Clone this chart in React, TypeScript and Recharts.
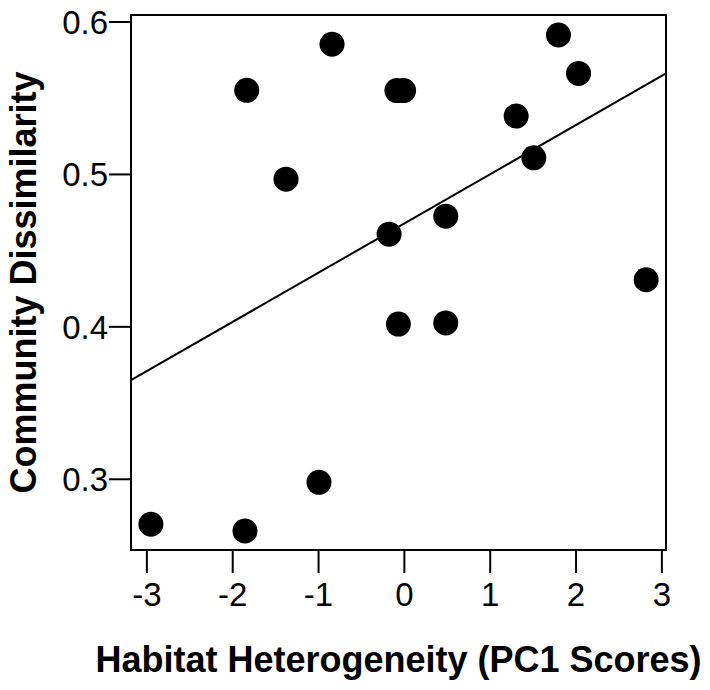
import React from 'react';
import { ScatterChart, Scatter, XAxis, YAxis, ReferenceArea, ReferenceLine, Label } from 'recharts';

const heterogeneity = [-2.953, -1.857, -0.995, -1.837, -1.379, -0.843, -0.087, -0.009, -0.178, -0.07, 0.482, 0.482, 1.302, 1.508, 1.795, 2.029, 2.817];
const dissimilarity = [0.2705, 0.2661, 0.298, 0.5552, 0.4969, 0.5854, 0.555, 0.555, 0.4608, 0.4018, 0.4726, 0.4026, 0.5383, 0.5109, 0.5915, 0.5663, 0.4309];

const fitX = [-3.185, 3.048];
const fitY = [0.365, 0.5663];

const xDomain = [-3.185, 3.048];
const yDomain = [0.2536, 0.6046];
const xTicks = [-3, -2, -1, 0, 1, 2, 3];
const yTicks = [0.3, 0.4, 0.5, 0.6];

const xTitle = 'Habitat Heterogeneity (PC1 Scores)';
const yTitle = 'Community Dissimilarity';

const FONT = '"Liberation Sans", Arial, Helvetica, sans-serif';

const points = heterogeneity.map((x, i) => ({ x, y: dissimilarity[i] }));

const Dot = (p: any) => <circle cx={p.cx} cy={p.cy} r={12.5} fill="#000" />;

export default function App() {
  return (
    <div style={{ width: 702, height: 682 }}>
      <ScatterChart width={702} height={682} margin={{ top: 7, right: 44, bottom: 0, left: 0 }}>
        <XAxis
          type="number"
          dataKey="x"
          domain={xDomain}
          ticks={xTicks}
          allowDataOverflow
          height={140}
          axisLine={false}
          tickLine={{ stroke: '#000', strokeWidth: 2 }}
          tickSize={23}
          tickMargin={10}
          tick={{ fill: '#000', fontSize: 33, fontFamily: FONT }}
          interval={0}
        >
          <Label
            content={(props: any) => {
              const vb = props.viewBox || {};
              return (
                <text
                  x={vb.x + vb.width / 2}
                  y={vb.y + 121.7}
                  textAnchor="middle"
                  fontFamily={FONT}
                  fontWeight="bold"
                  fontSize={36}
                  fill="#000"
                >
                  {xTitle}
                </text>
              );
            }}
          />
        </XAxis>
        <YAxis
          type="number"
          dataKey="y"
          domain={yDomain}
          ticks={yTicks}
          allowDataOverflow
          width={123}
          axisLine={false}
          tickLine={{ stroke: '#000', strokeWidth: 2 }}
          tickSize={22}
          tickMargin={1}
          tick={{ fill: '#000', fontSize: 33, fontFamily: FONT }}
          tickFormatter={(v: number) => v.toFixed(1)}
          interval={0}
        >
          <Label
            content={(props: any) => {
              const vb = props.viewBox || {};
              const cx = vb.x + 28;
              const cy = vb.y + vb.height / 2;
              return (
                <text
                  x={cx}
                  y={cy}
                  transform={`rotate(-90, ${cx}, ${cy})`}
                  textAnchor="middle"
                  fontFamily={FONT}
                  fontWeight="bold"
                  fontSize={36}
                  fill="#000"
                >
                  {yTitle}
                </text>
              );
            }}
          />
        </YAxis>
        <ReferenceArea
          x1={xDomain[0]}
          x2={xDomain[1]}
          y1={yDomain[0]}
          y2={yDomain[1]}
          fill="none"
          fillOpacity={0}
          stroke="#000"
          strokeWidth={2}
          strokeOpacity={1}
          ifOverflow="visible"
        />
        <ReferenceLine
          segment={[
            { x: fitX[0], y: fitY[0] },
            { x: fitX[1], y: fitY[1] },
          ]}
          stroke="#000"
          strokeWidth={2}
          ifOverflow="visible"
        />
        <Scatter data={points} fill="#000" shape={Dot} isAnimationActive={false} />
      </ScatterChart>
    </div>
  );
}
